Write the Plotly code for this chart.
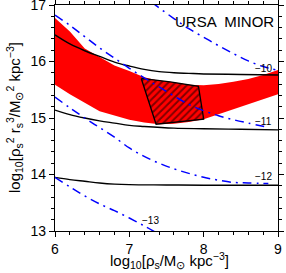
import plotly.graph_objects as go

# Red allowed band (upper / lower edges)
band_x = [6.0, 6.2, 6.4, 6.6, 6.8, 7.0, 7.2, 7.4, 7.6, 7.8, 8.0, 8.2, 8.4, 8.6, 8.8, 9.0]
band_upper = [16.77, 16.53, 16.23, 16.08, 15.93, 15.83, 15.72, 15.66, 15.62, 15.59, 15.58, 15.60, 15.64, 15.69, 15.76, 15.85]
band_lower = [15.59, 15.42, 15.27, 15.12, 15.04, 14.97, 14.92, 14.89, 14.90, 14.93, 14.98, 15.06, 15.15, 15.25, 15.33, 15.42]

# Hatched box corners
box_x = [7.16, 7.55, 7.93, 8.00, 7.36, 7.16]
box_y = [15.70, 15.64, 15.56, 14.98, 14.89, 15.70]

# Black solid contours
c10_x = [6.0, 6.2, 6.4, 6.6, 6.8, 7.0, 7.2, 7.4, 7.6, 7.8, 8.0, 8.5, 9.0]
c10_y = [16.47, 16.31, 16.19, 16.09, 15.99, 15.92, 15.86, 15.82, 15.80, 15.79, 15.78, 15.77, 15.76]
c11_x = [6.0, 6.2, 6.4, 6.6, 6.8, 7.0, 7.2, 7.6, 8.0, 8.5, 9.0]
c11_y = [15.14, 15.06, 15.00, 14.95, 14.91, 14.87, 14.85, 14.82, 14.81, 14.80, 14.79]
c12_x = [6.0, 6.2, 6.4, 6.6, 6.8, 7.0, 7.5, 8.0, 9.0]
c12_y = [13.95, 13.91, 13.88, 13.85, 13.83, 13.82, 13.815, 13.81, 13.81]

# Blue dash-dot curves
b1_x = [6.0, 6.2, 6.4, 6.6, 6.8, 7.0, 7.2, 7.4, 7.6, 7.8, 8.0, 8.2, 8.4, 8.6, 8.85]
b1_y = [16.82, 16.64, 16.44, 16.24, 16.06, 15.88, 15.71, 15.55, 15.39, 15.24, 15.13, 15.04, 14.97, 14.91, 14.84]
b2_x = [7.3, 7.38, 7.6, 7.8, 8.0, 8.2, 8.4, 8.6, 8.8, 8.98]
b2_y = [17.05, 16.97, 16.76, 16.58, 16.43, 16.28, 16.14, 16.01, 15.91, 15.85]
b3_x = [6.0, 6.2, 6.4, 6.6, 6.8, 7.0, 7.2, 7.4, 7.6, 7.8, 8.0, 8.2, 8.4, 8.6, 8.87]
b3_y = [15.37, 15.18, 15.00, 14.83, 14.66, 14.47, 14.32, 14.20, 14.10, 14.02, 13.95, 13.90, 13.86, 13.85, 13.84]
b4_x = [6.0, 6.2, 6.4, 6.6, 6.8, 7.0, 7.2, 7.35]
b4_y = [13.95, 13.78, 13.62, 13.48, 13.36, 13.23, 13.09, 12.98]

# Contour labels
lab_text = ["\u221210", "\u221211", "\u221212", "\u221213"]
lab_x = [8.8, 8.8, 8.8, 7.28]
lab_y = [15.88, 14.93, 13.96, 13.19]

# Ticks
x_ticks = [6, 7, 8, 9]
y_ticks = [13, 14, 15, 16, 17]

title_text = "URSA  MINOR"
x_title = "log<sub>10</sub>[\u03c1<sub>s</sub>/M<sub>\u2299</sub> kpc<sup>\u22123</sup>]"
y_title = ("log<sub>10</sub>[\u03c1<sub>s</sub><sup>2</sup> r<sub>s</sub><sup>3</sup>/"
           "M<sub>\u2299</sub><sup>2</sup> kpc<sup>\u22123</sup>]")

FONT = "Liberation Sans, Arial, Helvetica, sans-serif"

fig = go.Figure()

fig.add_trace(go.Scatter(
    x=band_x + band_x[::-1], y=band_upper + band_lower[::-1],
    fill="toself", fillcolor="#ff0000", line=dict(width=0), mode="lines",
    hoverinfo="skip", showlegend=False))

fig.add_trace(go.Scatter(
    x=box_x, y=box_y, fill="toself", mode="lines",
    fillcolor="#ff0000",
    fillpattern=dict(shape="/", fgcolor="black", bgcolor="#ff0000", size=5, solidity=0.4),
    line=dict(color="black", width=1.3), showlegend=False))

for cx, cy in [(c10_x, c10_y), (c11_x, c11_y), (c12_x, c12_y)]:
    fig.add_trace(go.Scatter(x=cx, y=cy, mode="lines", line=dict(color="black", width=1.4, shape="spline"),
                             showlegend=False))

for bx, by in [(b1_x, b1_y), (b2_x, b2_y), (b3_x, b3_y), (b4_x, b4_y)]:
    fig.add_trace(go.Scatter(x=bx, y=by, mode="lines",
                             line=dict(color="#0000ff", width=1.5, dash="9px,5px,2px,5px", shape="spline"),
                             showlegend=False))

for t, x, y in zip(lab_text, lab_x, lab_y):
    fig.add_annotation(x=x, y=y, text=t, showarrow=False, font=dict(size=10, color="black", family=FONT))

fig.add_annotation(x=1, y=1, xref="paper", yref="paper", xanchor="right", yanchor="top",
                   xshift=-2, yshift=-6, text=title_text, showarrow=False,
                   font=dict(size=15, color="black", family=FONT))

fig.add_annotation(x=0.5, y=0, xref="paper", yref="paper", xanchor="center", yanchor="middle",
                   yshift=-29, xshift=3, text=x_title, showarrow=False,
                   font=dict(size=15, color="black", family=FONT))
fig.add_annotation(x=0, y=0.5, xref="paper", yref="paper", xanchor="center", yanchor="middle",
                   xshift=-41, textangle=-90, text=y_title, showarrow=False,
                   font=dict(size=15, color="black", family=FONT))

axis_common = dict(
    showgrid=False, zeroline=False, showline=True, linecolor="black", linewidth=1.3,
    mirror="ticks", ticks="outside", ticklen=5, tickwidth=1, tickcolor="black",
    tickfont=dict(size=14, color="black", family=FONT), automargin=False,
    ticklabeloverflow="allow",
)

fig.update_xaxes(range=[6, 9], tickmode="array", tickvals=x_ticks, ticktext=[str(v) for v in x_ticks],
                 minor=dict(dtick=0.2, tick0=6, ticks="outside", ticklen=3, tickcolor="black"),
                 **axis_common)
fig.update_yaxes(range=[13, 17], tickmode="array", tickvals=y_ticks, ticktext=[str(v) for v in y_ticks],
                 minor=dict(dtick=0.2, tick0=13, ticks="outside", ticklen=3, tickcolor="black"),
                 **axis_common)

fig.update_layout(
    width=286, height=273,
    margin=dict(l=55, r=8, t=5, b=42),
    plot_bgcolor="white", paper_bgcolor="white",
    showlegend=False,
)

fig.write_html("out.html", config={"displayModeBar": False},
               post_script="document.body.style.margin='0';document.body.style.overflow='hidden';")
